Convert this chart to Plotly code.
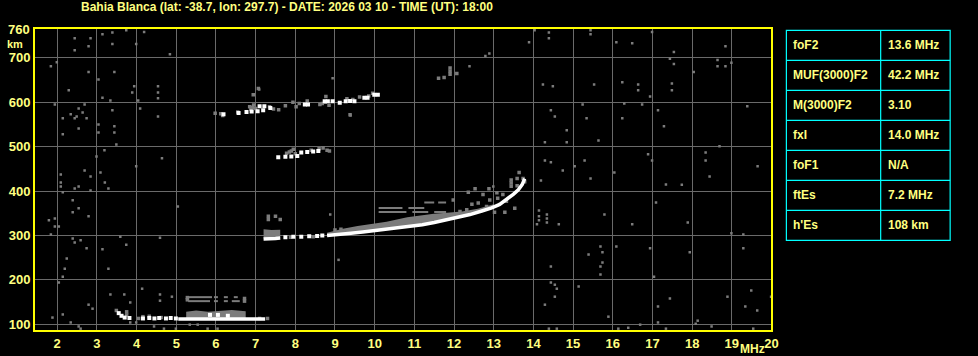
import plotly.graph_objects as go

# ---------------- text ----------------
TITLE = "Bahia Blanca (lat: -38.7, lon: 297.7) - DATE: 2026 03 10 - TIME (UT): 18:00"
freq_ticks = list(range(2, 21))
height_ticks = [100, 200, 300, 400, 500, 600, 700]
param_names = ["foF2", "MUF(3000)F2", "M(3000)F2", "fxI", "foF1", "ftEs", "h'Es"]
param_values = ["13.6 MHz", "42.2 MHz", "3.10", "14.0 MHz", "N/A", "7.2 MHz", "108 km"]

# ---------------- F2 trace (strong echo, white) ----------------
f2_freq = [7.20, 7.35, 7.50, 7.62, None, 8.80, 9.10, 9.40, 9.70, 10.00, 10.30, 10.60, 10.90,
           11.20, 11.50, 11.80, 12.10, 12.40, 12.70, 12.95, 13.15, 13.35, 13.50, 13.62, 13.72, 13.78]
f2_height = [292, 292, 293, 294, None, 300, 302, 305, 308, 311, 313, 317, 320,
             324, 329, 335, 341, 347, 355, 362, 370, 382, 393, 403, 415, 428]
f2_dot_freq = [7.75, 7.95, 8.15, 8.35, 8.55, 8.68]
f2_dot_height = [296, 297, 297, 298, 299, 300]

# F2 weak echo band (grey)
f2_band_freq = [8.80, 9.20, 9.57, 10.30, 10.82, 11.49, 11.82, 12.20, 12.60, 13.00]
f2_band_top = [306, 315, 321, 331, 341, 349, 351, 354, 360, 370]
f2_band_bottom = [300, 303, 306, 313, 319, 329, 335, 343, 352, 364]
f2_band2_freq = [7.20, 7.40, 7.62]
f2_band2_top = [314, 312, 313]
f2_band2_bottom = [293, 293, 294]
f2_grey_freq = [7.32, 7.32, 7.50, 7.62, 12.53, 12.88, 13.44, 12.36, 12.73, 13.08, 13.23, 11.98, 12.61,
                13.32, 12.82, 13.28, 13.53, 13.02, 12.32, 12.15, 13.44, 13.44, 13.59, 13.74, 13.78,
                13.64, 13.59, 9.00, 9.15, 9.30, 7.88, 8.45, 12.90, 13.10, 12.45, 11.90, 11.90, 11.90,
                12.07, 11.61, 11.75]
f2_grey_height = [343, 336, 343, 336, 405, 405, 418, 397, 392, 396, 392, 380, 373,
                  377, 365, 352, 361, 352, 358, 354, 411, 425, 428, 428, 421,
                  442, 412, 312, 314, 310, 296, 297, 380, 384, 370, 663, 670, 677,
                  665, 654, 656]
ladder_f0 = [10.10, 10.85, 10.10, 10.95, 11.50, 11.25, 11.60]
ladder_f1 = [10.70, 11.25, 10.80, 11.35, 11.80, 11.50, 11.80]
ladder_h = [362, 362, 353, 353, 353, 374, 374]

# ---------------- second hop traces ----------------
f2b_freq = [7.57, 7.75, 7.90, 8.05, 8.15, 8.30, 8.45, 8.58]
f2b_height = [476, 477, 478, 479, 487, 488, 489, 490]
f2b_grey_freq = [7.78, 7.90, 7.95, 8.60, 8.70, 8.80, 8.86, 8.40, 7.85, 8.00]
f2b_grey_height = [485, 490, 494, 495, 497, 492, 490, 492, 488, 484]
f2c_freq = [6.19, 6.57, 6.77, 6.90, 7.05, 7.19, 7.10, 7.22, 7.37, 8.24, 8.32, 8.74, 8.82, 8.94,
            9.12, 9.27, 9.38, 9.49, 9.74, 9.82, 9.99, 10.08]
f2c_height = [573, 576, 578, 579, 580, 582, 591, 591, 587, 595, 595, 602, 602, 602,
              599, 602, 603, 602, 610, 610, 617, 617]
f2c_grey_freq = [5.98, 6.12, 6.17, 6.55, 6.85, 6.95, 7.00, 7.07, 6.94, 7.35, 7.45, 7.58, 7.75,
                 8.02, 8.10, 8.30, 8.62, 8.75, 8.85, 8.77, 9.30, 9.45, 9.38, 9.62, 9.85, 9.95,
                 7.94, 6.88, 6.92, 8.68]
f2c_grey_height = [575, 574, 570, 578, 590, 594, 586, 631, 617, 590, 585, 583, 592,
                   590, 597, 603, 595, 600, 593, 613, 608, 606, 572, 612, 614, 620,
                   600, 584, 588, 597]

# ---------------- sporadic E ----------------
es_freq = [5.05, 5.30, 5.60, 5.90, 6.20, 6.50, 6.80, 7.05, 7.24]
es_height = [112, 112, 113, 113, 112, 112, 112, 112, 112]
es_dot_freq = [3.55, 3.62, 3.70, 3.82, 4.16, 4.32, 4.45, 4.57, 4.74, 4.86, 4.99, 5.85, 6.05, 6.30]
es_dot_height = [125, 119, 115, 114, 113, 114, 113, 114, 113, 114, 113, 121, 121, 119]
es_band_freq = [5.25, 5.50, 5.80, 6.10, 6.40, 6.75]
es_band_top = [128, 131, 128, 130, 132, 129]
es_band_bottom = [113, 113, 114, 114, 113, 113]
es_grey_freq = [3.49, 3.75, 3.75, 4.16, 4.32, 5.28, 5.28, 6.72, 6.72, 7.10, 7.30, 4.62, 4.05]
es_grey_height = [131, 128, 121, 117, 118, 155, 160, 152, 158, 113, 113, 115, 113]
esd_f0 = [5.28, 5.95, 6.20, 6.45, 5.30, 5.95, 6.20, 6.40]
esd_f1 = [5.90, 6.05, 6.30, 6.55, 5.85, 6.05, 6.30, 6.60]
esd_h = [161, 161, 161, 161, 152, 152, 152, 152]

# ---------------- background noise (grey pixels) ----------------
noise_freq = [2.44, 2.84, 2.44, 2.79, 3.14, 3.39, 3.39, 3.74, 4.19, 3.99, 4.84,
              1.84, 1.99, 2.79, 3.04, 3.44, 3.94, 4.54, 3.89, 4.54, 4.54, 3.14, 2.29, 3.34, 4.04,
              1.94, 2.69, 2.54, 2.64, 2.34, 2.49, 2.44, 2.14, 2.74, 3.39, 4.09, 4.54,
              3.04, 3.04, 3.44, 3.44, 2.54, 2.14, 3.49, 2.99, 3.19, 4.64, 3.99, 3.09, 2.09, 2.69,
              2.84, 2.09, 2.09, 2.44, 2.54, 2.14, 3.20, 3.29, 2.84,
              2.39, 2.39, 2.54, 2.79, 1.79, 1.94, 1.94, 2.04, 1.84, 2.39, 2.44, 2.59, 2.74, 3.14,
              2.24, 2.19, 3.29, 2.14, 2.04, 3.34, 2.79, 2.89, 3.49, 2.14, 1.88, 2.34, 2.54, 2.59,
              3.69, 3.84, 4.14, 4.59, 4.89, 4.59, 4.44, 4.69, 4.99, 5.34, 5.54, 5.79, 6.04, 3.84, 3.99,
              6.94, 7.09, 8.94, 9.39, 3.59, 3.74, 4.59, 5.04, 8.88, 9.09,
              14.03, 14.39, 15.44, 15.44, 16.99, 13.89, 14.39, 16.09, 16.49, 12.89, 12.79, 17.54,
              18.84, 17.44, 17.54, 18.64, 18.64, 18.84, 18.99, 12.39, 18.04,
              14.24, 14.49, 15.53, 16.24, 16.64, 16.64, 17.49, 17.49, 16.94, 15.24, 16.29, 16.74,
              19.39, 14.44, 14.54, 15.34, 16.24, 17.14, 17.29, 14.84, 14.29, 14.84, 15.64, 18.69,
              16.89, 16.99, 18.34, 18.34, 14.29, 14.44, 15.29, 15.04, 14.74, 16.04, 15.44, 14.19,
              19.65, 18.44, 17.34, 17.74, 12.99,
              14.14, 14.14, 14.14, 14.09, 14.34, 14.34, 14.34, 14.64, 15.79, 16.49, 17.09, 17.89,
              18.99, 19.29, 19.29, 15.69, 15.74, 16.09, 15.39, 16.94, 17.94, 15.74, 15.69, 15.69,
              14.44, 17.04, 14.44, 14.54, 14.59, 14.54, 14.29, 15.14, 15.89, 16.69, 17.14, 17.14,
              17.44, 18.89, 19.34, 19.49, 19.64, 19.99, 18.09, 18.14, 18.49, 14.39, 14.59, 16.14,
              16.39, 17.34, 19.54]
noise_height = [744, 744, 717, 726, 753, 757, 731, 762, 758, 731, 708,
                681, 690, 668, 651, 668, 636, 636, 622, 622, 609, 610, 627, 604, 604,
                595, 595, 586, 577, 573, 568, 564, 564, 564, 582, 586, 568,
                550, 532, 546, 532, 541, 528, 505, 478, 492, 474, 456, 442, 437, 446,
                433, 419, 410, 406, 410, 397, 419, 406, 401,
                379, 352, 361, 343, 334, 338, 320, 320, 302, 293, 284, 289, 271, 269,
                248, 225, 225, 207, 194, 167, 144, 135, 131, 122, 115, 104, 95, 90,
                167, 149, 180, 167, 162, 153, 95, 90, 90, 99, 99, 90, 90, 104, 104,
                618, 629, 654, 570, 297, 279, 295, 365, 347, 245,
                762, 757, 762, 753, 758, 735, 744, 735, 733, 710, 704, 713,
                726, 698, 686, 695, 681, 681, 689, 681, 668,
                640, 636, 640, 645, 640, 627, 642, 627, 613, 595, 597, 595,
                591, 582, 568, 564, 564, 582, 546, 537, 510, 510, 514, 501,
                483, 469, 487, 469, 469, 465, 469, 456, 446, 442, 428, 424,
                456, 433, 415, 414, 410,
                356, 343, 334, 325, 347, 338, 329, 325, 347, 325, 374, 329,
                305, 302, 271, 275, 262, 275, 257, 271, 262, 239, 230, 212,
                230, 207, 194, 189, 180, 162, 144, 185, 117, 99, 140, 104,
                158, 162, 140, 176, 131, 162, 101, 108, 95, 90, 90, 90,
                92, 90, 90]

# ---------------- styles ----------------
BG = "#000000"
GREY = "#7c7c7c"
WHITE = "#ffffff"
GRID = "#6a6a6a"
FRAME = "#ffff00"
CYAN = "#00ffff"
TXT = "#ffff80"
FONT = "Liberation Sans"
W, H = 978, 356
ML, MR, MT, MB = 35, 0, 29, 26
PW, PH = W - ML - MR, H - MT - MB


def px(xp):
    return (xp - ML) / PW


def py(yp):
    return (H - MB - yp) / PH


def polygon(fx, top, bottom):
    return fx + fx[::-1], top + bottom[::-1]


def segments(f0, f1, h):
    xs, ys = [], []
    for a, b, c in zip(f0, f1, h):
        xs += [a, b, None]
        ys += [c, c, None]
    return xs, ys


fig = go.Figure()

for fx, top, bot in [(f2_band_freq, f2_band_top, f2_band_bottom),
                     (f2_band2_freq, f2_band2_top, f2_band2_bottom),
                     (es_band_freq, es_band_top, es_band_bottom)]:
    xx, yy = polygon(fx, top, bot)
    fig.add_trace(go.Scatter(x=xx, y=yy, fill="toself", fillcolor=GREY, mode="lines",
                             line=dict(width=0, color=GREY), hoverinfo="skip"))

for f0, f1, hh in [(ladder_f0, ladder_f1, ladder_h), (esd_f0, esd_f1, esd_h)]:
    sx, sy = segments(f0, f1, hh)
    fig.add_trace(go.Scatter(x=sx, y=sy, mode="lines", line=dict(color=GREY, width=2),
                             hoverinfo="skip"))

fig.add_trace(go.Scatter(x=noise_freq, y=noise_height, mode="markers",
                         marker=dict(symbol="square", size=2.5, color=GREY, line=dict(width=0))))

for fx, hy in [(f2_grey_freq, f2_grey_height), (f2b_grey_freq, f2b_grey_height),
               (f2c_grey_freq, f2c_grey_height), (es_grey_freq, es_grey_height)]:
    fig.add_trace(go.Scatter(x=fx, y=hy, mode="markers",
                             marker=dict(symbol="square", size=3.5, color=GREY, line=dict(width=0))))

fig.add_trace(go.Scatter(x=f2_freq, y=f2_height, mode="lines",
                         line=dict(color=WHITE, width=3.5)))
fig.add_trace(go.Scatter(x=es_freq, y=es_height, mode="lines",
                         line=dict(color=WHITE, width=3.5)))
for fx, hy in [(f2_dot_freq, f2_dot_height), (f2b_freq, f2b_height), (f2c_freq, f2c_height),
               (es_dot_freq, es_dot_height)]:
    fig.add_trace(go.Scatter(x=fx, y=hy, mode="markers",
                             marker=dict(symbol="square", size=4, color=WHITE, line=dict(width=0))))

# ---------------- parameter table (drawn in paper space) ----------------
T_LEFT, T_RIGHT, T_SPLIT, T_TOP, ROW_H = 792, 957, 887, 30.3, 30
n_rows = len(param_names)
shapes = [dict(type="rect", xref="paper", yref="paper", x0=px(T_LEFT), x1=px(T_RIGHT),
               y0=py(T_TOP + n_rows * ROW_H), y1=py(T_TOP), line=dict(color=CYAN, width=1.2),
               fillcolor=BG, layer="below"),
          dict(type="line", xref="paper", yref="paper", x0=px(T_SPLIT), x1=px(T_SPLIT),
               y0=py(T_TOP + n_rows * ROW_H), y1=py(T_TOP), line=dict(color=CYAN, width=1.2))]
for i in range(1, n_rows):
    yy = py(T_TOP + i * ROW_H)
    shapes.append(dict(type="line", xref="paper", yref="paper", x0=px(T_LEFT), x1=px(T_RIGHT),
                       y0=yy, y1=yy, line=dict(color=CYAN, width=1.2)))
cell_font = dict(family=FONT, size=12, color=TXT, weight="bold")
for i, (name, val) in enumerate(zip(param_names, param_values)):
    yc = py(T_TOP + (i + 0.5) * ROW_H)
    fig.add_annotation(text=name, x=px(T_LEFT + 5), y=yc, xref="paper", yref="paper",
                       showarrow=False, xanchor="left", yanchor="middle", font=cell_font)
    fig.add_annotation(text=val, x=px(T_SPLIT + 5), y=yc, xref="paper", yref="paper",
                       showarrow=False, xanchor="left", yanchor="middle", font=cell_font)

axis_font = dict(family=FONT, size=13, color=TXT, weight="bold")
fig.update_xaxes(range=[1.44, 20], domain=[0, px(777)], tickvals=freq_ticks,
                 ticktext=[str(v) for v in freq_ticks], showgrid=True, gridcolor=GRID,
                 gridwidth=1, zeroline=False, showline=True, mirror=True, linecolor=FRAME,
                 linewidth=2, ticks="", tickfont=axis_font, fixedrange=True)
fig.update_yaxes(range=[87, 765], tickvals=height_ticks,
                 ticktext=[str(v) for v in height_ticks], showgrid=True, gridcolor=GRID,
                 gridwidth=1, zeroline=False, showline=True, mirror=True, linecolor=FRAME,
                 linewidth=2, ticks="", tickfont=axis_font, fixedrange=True)

fig.add_annotation(text=TITLE, x=px(289), y=py(7), xref="paper", yref="paper",
                   showarrow=False, xanchor="center", yanchor="middle",
                   font=dict(family=FONT, size=12, color=TXT, weight="bold"))
fig.add_annotation(text="760", x=px(32), y=py(29.5), xref="paper", yref="paper",
                   showarrow=False, xanchor="right", yanchor="middle", font=axis_font)
fig.add_annotation(text="km", x=px(5), y=py(44), xref="paper", yref="paper",
                   showarrow=False, xanchor="left", yanchor="middle",
                   font=dict(family=FONT, size=11, color=TXT, weight="bold"))
fig.add_annotation(text="MHz", x=px(758), y=py(349), xref="paper", yref="paper",
                   showarrow=False, xanchor="center", yanchor="middle",
                   font=dict(family=FONT, size=12, color=TXT, weight="bold"))

fig.update_layout(width=W, height=H, margin=dict(l=ML, r=MR, t=MT, b=MB),
                  paper_bgcolor=BG, plot_bgcolor=BG, showlegend=False, shapes=shapes)

fig.write_html("out.html")
